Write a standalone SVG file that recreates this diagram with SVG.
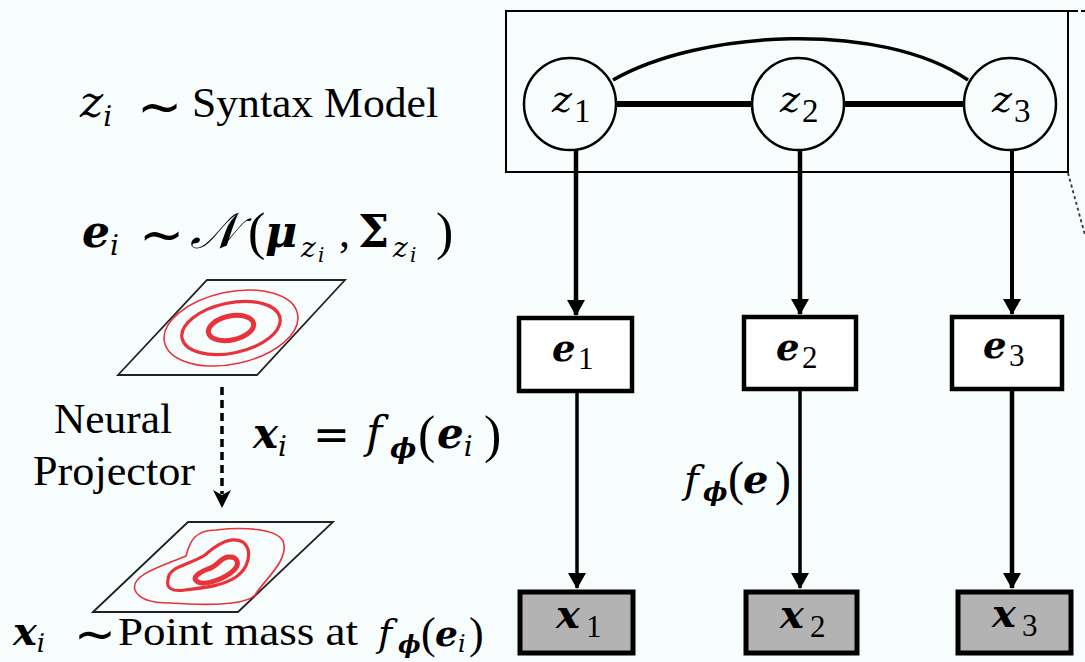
<svg xmlns="http://www.w3.org/2000/svg" width="1085" height="662" viewBox="0 0 1085 662">
<style>
text{font-family:"Liberation Serif","DejaVu Serif",serif;fill:#000}
.it{font-family:"DejaVu Serif",serif;font-style:italic}
.bi{font-family:"DejaVu Serif",serif;font-style:italic;font-weight:bold}
.b{font-family:"DejaVu Serif",serif;font-weight:bold}
.op{font-family:"DejaVu Sans",sans-serif}
.rm{font-family:"Liberation Serif",serif;font-style:normal;font-weight:normal}
.plane{fill:none;stroke:#222;stroke-width:1.8;stroke-linejoin:miter}
.red{fill:none;stroke:#e8333b}
.circ{fill:#f7fcfd;stroke:#000;stroke-width:2.5}
.ebox{fill:#fff;stroke:#000;stroke-width:4.5}
.xbox{fill:#b3b3b3;stroke:#000;stroke-width:5}
.arr{stroke:#000;fill:none;marker-end:url(#ah)}
</style>
<defs>
<marker id="ah" markerUnits="userSpaceOnUse" viewBox="0 0 16 18" refX="15" refY="9" markerWidth="16" markerHeight="18" orient="auto">
<path d="M0,0 L16,9 L0,18 Z" fill="#000"/>
</marker>
</defs>
<rect x="0" y="0" width="1085" height="662" fill="#f7fcfd"/>

<g id="left-equations">
<text font-size="44"><tspan class="it" x="80" y="117">z</tspan><tspan class="it" font-size="28" y="126">i</tspan><tspan class="op" font-size="54" x="137" y="125">∼</tspan></text>
<text class="rm" x="192" y="117" font-size="42" textLength="246" lengthAdjust="spacingAndGlyphs">Syntax Model</text>
<text font-size="44"><tspan class="bi" x="82" y="247">e</tspan><tspan class="it" font-size="28" y="255">i</tspan><tspan class="op" font-size="54" x="139" y="253">∼</tspan><tspan class="it" font-size="50" x="190" y="248">𝒩</tspan><tspan class="rm" font-size="52" x="248" y="249">(</tspan><tspan class="bi" x="265" y="247">μ</tspan><tspan class="it" font-size="28" x="301" y="257">z</tspan><tspan class="it" font-size="20" x="318" y="262">i</tspan><tspan class="rm" x="339" y="247">,</tspan><tspan class="b" x="358" y="247">Σ</tspan><tspan class="it" font-size="28" x="393" y="257">z</tspan><tspan class="it" font-size="20" x="410" y="262">i</tspan><tspan class="rm" font-size="52" x="436" y="249">)</tspan></text>
</g>

<g id="gaussian-plane">
<polygon class="plane" points="118,375 207,280 345,280 257,375"/>
<g transform="rotate(-12 231 328)">
<ellipse class="red" cx="231" cy="328" rx="68" ry="36" stroke-width="1.6"/>
<ellipse class="red" cx="231" cy="328" rx="50" ry="25" stroke-width="3.2"/>
<ellipse class="red" cx="231" cy="328" rx="23" ry="12" stroke-width="5"/>
</g>
</g>

<g id="projector">
<line x1="222" y1="387" x2="222" y2="494" stroke="#000" stroke-width="3.5" stroke-dasharray="8,5"/>
<path d="M213,490 L222,495 L231,490 L222,508 Z" fill="#000"/>
<text x="54" y="433" font-size="42" class="rm" textLength="118" lengthAdjust="spacingAndGlyphs">Neural</text>
<text x="33" y="485" font-size="42" class="rm" textLength="162" lengthAdjust="spacingAndGlyphs">Projector</text>
<text font-size="42"><tspan class="bi" x="253" y="448">x</tspan><tspan class="it" font-size="28" y="456">i</tspan><tspan class="op" font-size="44" x="313" y="450">=</tspan><tspan class="it" font-size="44" x="366" y="448">f</tspan><tspan class="bi" font-size="28" x="390" y="458">ϕ</tspan><tspan class="rm" font-size="52" x="418" y="452">(</tspan><tspan class="bi" x="437" y="448">e</tspan><tspan class="it" font-size="28" y="456">i</tspan><tspan class="rm" font-size="52" x="484" y="452">)</tspan></text>
</g>

<g id="projected-plane">
<polygon class="plane" points="93,612 188,522 333,522 238,612"/>
<path class="red" stroke-width="1.6" d="M135,590 C130,575 162,566 186,556 C190,540 196,530 216,530 C242,527 276,528 283,541 C290,560 264,580 255,595 C245,606 200,605 170,603 C150,603 138,598 135,590 Z"/>
<path class="red" stroke-width="3.2" d="M168,580 C168,566 190,565 205,555 C216,545 230,535 243,542 C253,550 249,568 236,577 C221,587 200,588 185,590 C172,592 166,588 168,580 Z"/>
<path class="red" stroke-width="5" d="M198,582 C190,578 200,572 208,569 C218,566 220,558 228,557 C238,556 240,564 234,570 C226,578 206,586 198,582 Z"/>
<text font-size="40"><tspan class="bi" x="13" y="645">x</tspan><tspan class="it" font-size="26" y="652">i</tspan><tspan class="op" font-size="50" x="74" y="651">∼</tspan></text>
<text class="rm" x="118" y="645" font-size="41" textLength="240" lengthAdjust="spacingAndGlyphs">Point mass at</text>
<text font-size="38"><tspan class="it" x="378" y="646">f</tspan><tspan class="bi" font-size="24" x="398" y="653">ϕ</tspan><tspan class="rm" font-size="44" x="421" y="648">(</tspan><tspan class="bi" font-size="36" x="435" y="646">e</tspan><tspan class="it" font-size="24" y="652">i</tspan><tspan class="rm" font-size="44" x="469" y="648">)</tspan></text>
</g>

<g id="syntax-plate">
<rect x="506" y="11" width="562" height="161" fill="none" stroke="#000" stroke-width="2"/>
<line x1="1068" y1="11" x2="1078" y2="11" stroke="#000" stroke-width="2"/>
<line x1="1081" y1="11" x2="1085" y2="11" stroke="#000" stroke-width="2"/>
<line x1="1068" y1="173" x2="1085" y2="235" stroke="#333" stroke-width="1.8" stroke-dasharray="3,3"/>
</g>

<g id="connectors">
<path d="M613,80 C700,30 880,20 968,80" fill="none" stroke="#000" stroke-width="3.5"/>
<line x1="616" y1="104" x2="752" y2="104" stroke="#000" stroke-width="6"/>
<line x1="844" y1="104" x2="965" y2="104" stroke="#000" stroke-width="6"/>
<line class="arr" x1="576" y1="150" x2="576" y2="315" stroke-width="4.5"/>
<line class="arr" x1="800" y1="150" x2="800" y2="314" stroke-width="4.5"/>
<line class="arr" x1="1012" y1="150" x2="1012" y2="314" stroke-width="4"/>
<line class="arr" x1="577" y1="393" x2="577" y2="588" stroke-width="3.5"/>
<line class="arr" x1="800" y1="391" x2="800" y2="588" stroke-width="3.5"/>
<line class="arr" x1="1012" y1="391" x2="1012" y2="588" stroke-width="4.5"/>
<text font-size="40"><tspan class="it" x="684" y="493">f</tspan><tspan class="bi" font-size="26" x="703" y="501">ϕ</tspan><tspan class="rm" font-size="48" x="728" y="495">(</tspan><tspan class="bi" x="743" y="493">e</tspan><tspan class="rm" font-size="48" x="775" y="495">)</tspan></text>
</g>

<g id="z1"><ellipse class="circ" cx="570" cy="104" rx="46" ry="46"/><text><tspan class="it" font-size="38" x="552" y="112">z</tspan><tspan class="rm" font-size="33" x="574" y="122">1</tspan></text></g>
<g id="z2"><ellipse class="circ" cx="798" cy="104" rx="46" ry="46"/><text><tspan class="it" font-size="38" x="780" y="112">z</tspan><tspan class="rm" font-size="33" x="802" y="122">2</tspan></text></g>
<g id="z3"><ellipse class="circ" cx="1010" cy="104" rx="46" ry="46"/><text><tspan class="it" font-size="38" x="992" y="112">z</tspan><tspan class="rm" font-size="33" x="1014" y="122">3</tspan></text></g>

<g id="e1"><rect class="ebox" x="519" y="318" width="113" height="73"/><text><tspan class="bi" font-size="37" x="552" y="361">e</tspan><tspan class="rm" font-size="31" x="578" y="369">1</tspan></text></g>
<g id="e2"><rect class="ebox" x="744" y="317" width="112" height="72"/><text><tspan class="bi" font-size="37" x="776" y="360">e</tspan><tspan class="rm" font-size="31" x="802" y="368">2</tspan></text></g>
<g id="e3"><rect class="ebox" x="952" y="317" width="110" height="72"/><text><tspan class="bi" font-size="37" x="983" y="358">e</tspan><tspan class="rm" font-size="31" x="1009" y="366">3</tspan></text></g>

<g id="x1"><rect class="xbox" x="520" y="592" width="113" height="61"/><text><tspan class="bi" font-size="40" x="556" y="628">x</tspan><tspan class="rm" font-size="31" x="586" y="637">1</tspan></text></g>
<g id="x2"><rect class="xbox" x="746" y="592" width="111" height="61"/><text><tspan class="bi" font-size="40" x="780" y="628">x</tspan><tspan class="rm" font-size="31" x="810" y="637">2</tspan></text></g>
<g id="x3"><rect class="xbox" x="958" y="592" width="113" height="61"/><text><tspan class="bi" font-size="40" x="992" y="627">x</tspan><tspan class="rm" font-size="31" x="1022" y="636">3</tspan></text></g>
</svg>
